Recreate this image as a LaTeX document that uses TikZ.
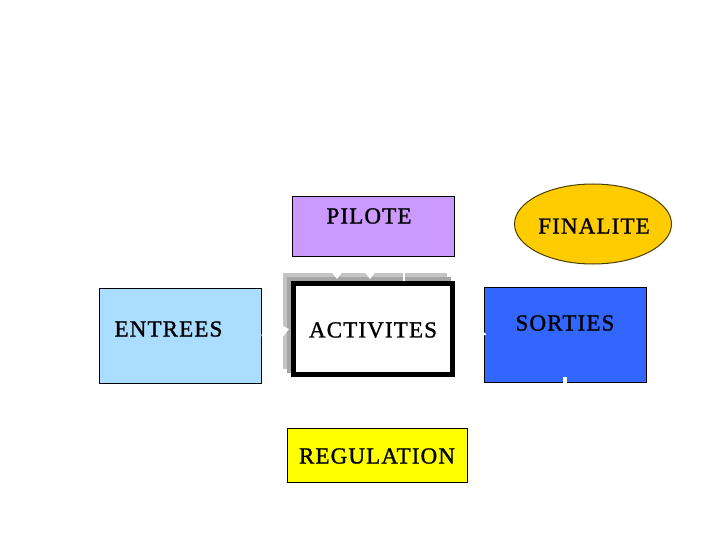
\documentclass[tikz,border=0pt]{standalone}
\usepackage{fontspec}
\setmainfont{Liberation Serif}[LetterSpace=5, FakeBold=1.2]
\usetikzlibrary{shapes.geometric,arrows.meta}
\definecolor{entbl}{HTML}{AADDFF}
\definecolor{pilvi}{HTML}{CC99FF}
\definecolor{sorbl}{HTML}{3366FF}
\definecolor{finor}{HTML}{FFCC00}
\definecolor{regye}{HTML}{FFFF00}
\definecolor{shadl}{HTML}{C4C4C4}
\definecolor{shadd}{HTML}{A6A6A6}
\tikzset{
  box/.style={draw=black, line width=1pt, inner sep=0pt},
  lbl/.style={font=\fontsize{23}{25}\selectfont, text=black},
  wline/.style={draw=white, line width=2.2pt},
  warrow/.style={wline, -{Triangle[width=12pt,length=8pt]}},
}
\begin{document}
\begin{tikzpicture}[x=1pt,y=-1pt]
\useasboundingbox (0,0) rectangle (720,540);
% boxes
\node[box, fill=entbl, minimum width=162pt, minimum height=95pt] (ent) at (180,335.5) {};
\node[lbl, anchor=west] (entt) at (111,329) {ENTREES};
\node[box, fill=pilvi, minimum width=162pt, minimum height=59pt] (pil) at (373,226.5) {};
\node[lbl] (pilt) at (369,216) {PILOTE};
% activites shadow
\fill[shadl] (283,273) rectangle (447,369);
\fill[shadd] (287,277) rectangle (451,373);
\node[draw=black, line width=5pt, fill=white, minimum width=159pt, minimum height=91pt, inner sep=0pt] (act) at (373,329) {};
\node[lbl] (actt) at (373,330) {ACTIVITES};
\node[box, fill=sorbl, minimum width=162pt, minimum height=95pt] (sor) at (565,334.5) {};
\node[lbl] (sort) at (565,323) {SORTIES};
\node[box, draw=black!70!finor, fill=finor, ellipse, minimum width=157pt, minimum height=80pt] (fin) at (593,224) {};
\node[lbl] (fint) at (594,226) {FINALITE};
\node[box, fill=regye, minimum width=180pt, minimum height=54pt] (reg) at (377,455) {};
\node[lbl] (regt) at (377,456) {REGULATION};
% white connectors
\coordinate (p1) at (337,257);
\coordinate (p2) at (370,257);
\coordinate (p3) at (404,257);
\coordinate (a1) at (337,279);
\coordinate (a2) at (370,279);
\coordinate (a3) at (404,281);
\draw[warrow] (p1) -- (a1);
\draw[warrow] (p2) -- (a2);
\draw[wline] (p3) -- (a3);
\draw[warrow] (ent.east) -- ([xshift=-2pt]act.west);
\draw[wline, -{Triangle[width=6pt,length=5pt]}] ([xshift=3pt]act.east) -- ([xshift=3pt]sor.west);
\coordinate (s1) at (565,377);
\coordinate (s2) at (565,400);
\draw[wline, line width=4pt] (s1) -- (s2);
\end{tikzpicture}
\end{document}
